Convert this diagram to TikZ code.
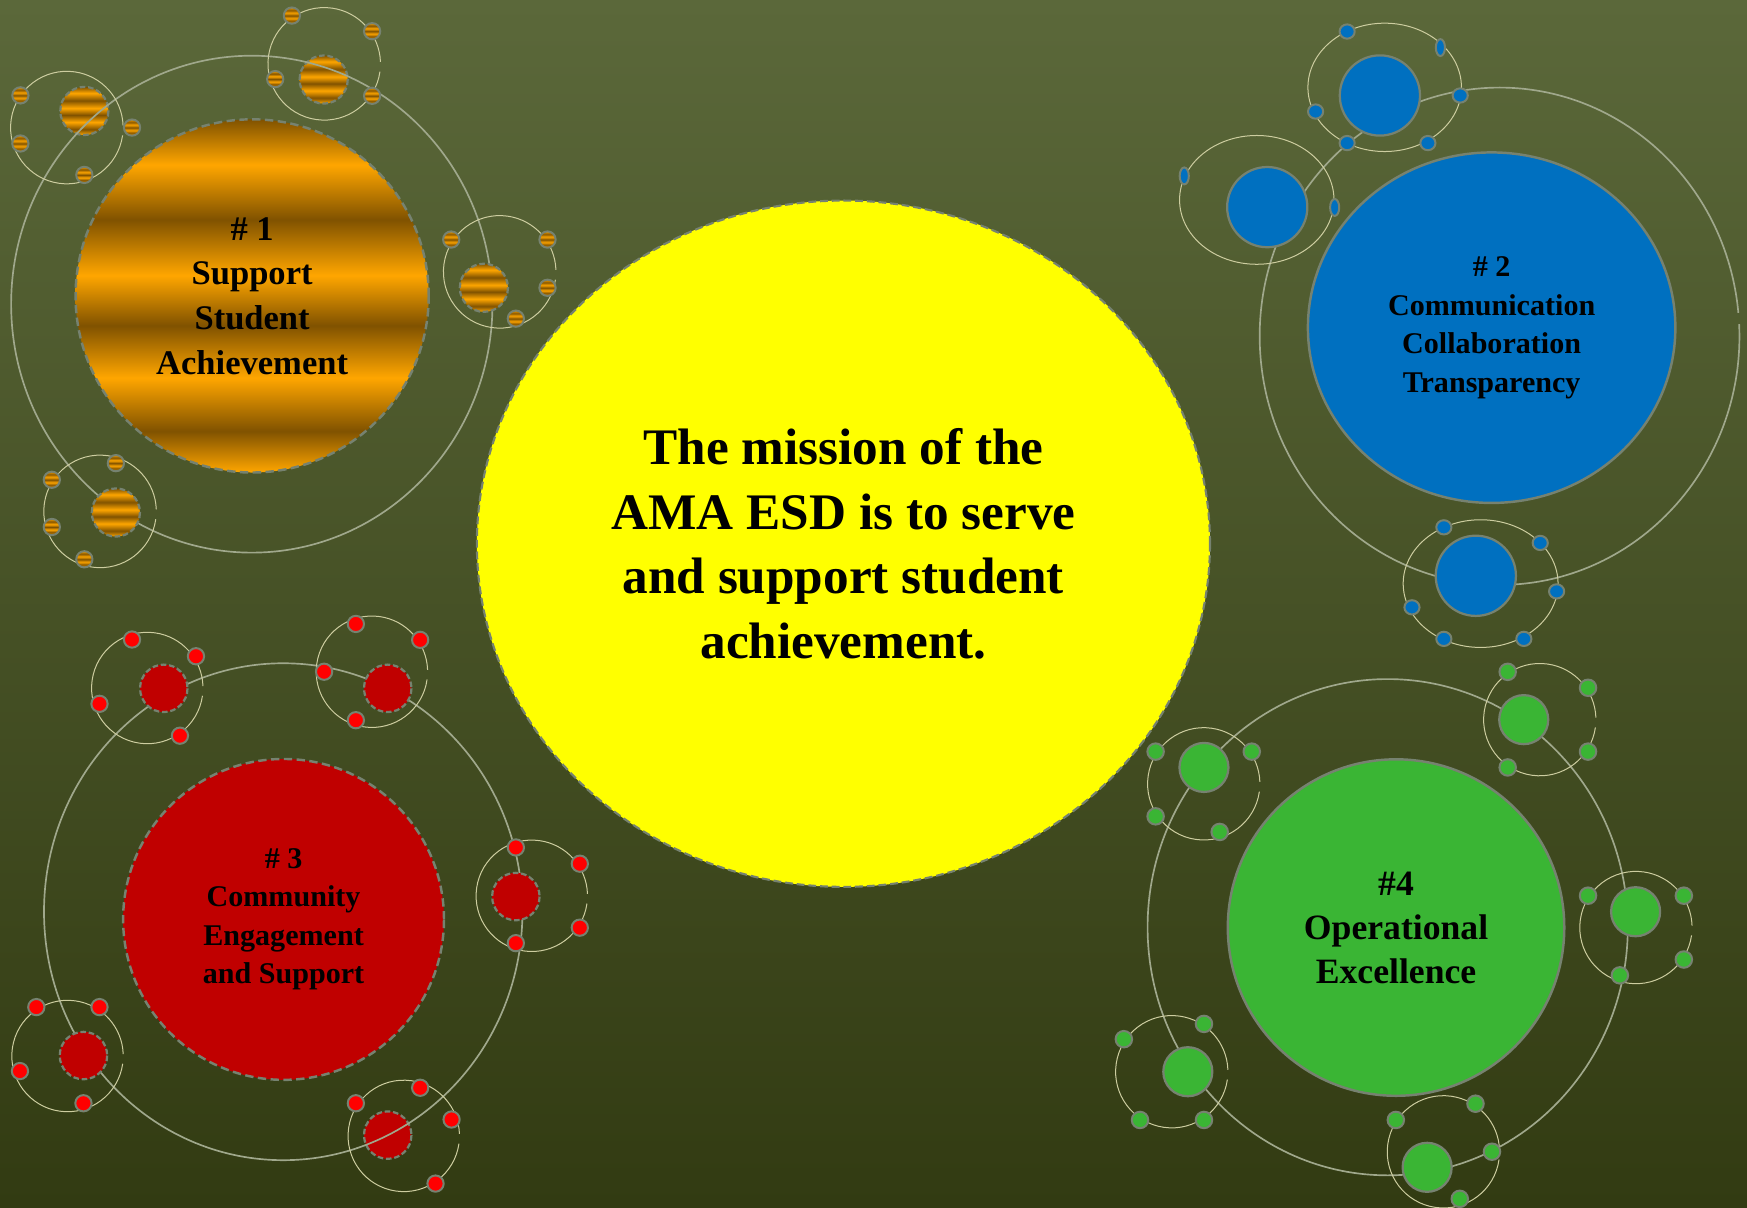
\documentclass[tikz,border=0pt]{standalone}
\usepackage{fontspec}
\setmainfont{Liberation Serif}
\usetikzlibrary{shapes.geometric}
\definecolor{bgtop}{RGB}{91,104,58}
\definecolor{bgbot}{RGB}{50,59,18}
\definecolor{ob1}{RGB}{255,166,0}
\definecolor{ob2}{RGB}{128,82,0}
\definecolor{bord}{RGB}{118,130,112}
\definecolor{bigorb}{RGB}{160,168,140}
\definecolor{ringc}{RGB}{205,205,160}
\definecolor{blueB}{RGB}{0,112,192}
\definecolor{redC}{RGB}{192,0,0}
\definecolor{redM}{RGB}{255,0,0}
\definecolor{greenD}{RGB}{58,181,52}
\definecolor{yel}{RGB}{255,255,0}
\pgfdeclareverticalshading{obands}{100bp}{color(0bp)=(ob1); color(25bp)=(ob1); color(30.85bp)=(ob2); color(38.4bp)=(ob1); color(45.8bp)=(ob2); color(52.9bp)=(ob1); color(60.8bp)=(ob2); color(68.55bp)=(ob1); color(75bp)=(ob2); color(100bp)=(ob2)}
\pgfdeclareverticalshading{mbands}{100bp}{color(0bp)=(ob1); color(25bp)=(ob1); color(33.3bp)=(ob2); color(41.7bp)=(ob1); color(50bp)=(ob2); color(58.3bp)=(ob1); color(66.7bp)=(ob2); color(75bp)=(ob1); color(100bp)=(ob1)}
\tikzset{
  bigorbit/.style={draw=bigorb, line width=1.5pt},
  ringorbit/.style={draw=ringc, line width=0.9pt},
  oplanet/.style={shading=obands, draw=bord, line width=2pt, dash pattern=on 5pt off 2.5pt},
  omoon/.style={shading=mbands, draw=bord, line width=1.8pt},
  bplanet/.style={fill=blueB, draw=bord, line width=2pt},
  bmoon/.style={fill=blueB, draw=bord, line width=1.8pt},
  rplanet/.style={fill=redC, draw=bord, line width=2pt, dash pattern=on 5pt off 2.5pt},
  rmoon/.style={fill=redM, draw=bord, line width=1.8pt},
  gplanet/.style={fill=greenD, draw=bord, line width=2pt},
  gmoon/.style={fill=greenD, draw=bord, line width=1.8pt},
  maintext/.style={align=center, inner sep=0pt, text=black},
}
\begin{document}
\begin{tikzpicture}[x=1pt,y=-1pt]
\useasboundingbox (0,0) rectangle (1568,1084);
\shade[top color=bgtop, bottom color=bgbot] (0,0) rectangle (1568,1084);

% ---------------- cluster 1 (orange)
\foreach \px/\py in {290.5/71.4, 75.7/99.6}
  \path[oplanet] (\px,\py) circle[radius=21.6];
\draw[bigorbit] (226,273) ellipse[x radius=216, y radius=223];
\foreach \cx/\cy in {291/57.3, 60/114.5, 448.5/244, 89.8/459}
  \draw[ringorbit] (\cx,\cy) ++(8:50.5) arc[start angle=8, end angle=358, radius=50.5];
\foreach \px/\py in {434.3/258.3, 104/460}
  \path[oplanet] (\px,\py) circle[radius=21.6];
\foreach \mx/\my in {262/14, 334/28, 247/71, 334/86, 18.3/85.6, 18.3/128.8, 118.5/114.5, 75.7/157, 405/215, 491.4/215, 491.4/258.3, 463/286, 46.5/430.6, 104/415.7, 46.5/473, 75.7/502}
  \path[omoon] (\mx,\my) circle[radius=7.3];
\node[circle, minimum size=317pt, shading=obands, draw=bord, line width=2.2pt, dash pattern=on 7.5pt off 4pt, maintext, font=\fontsize{31}{40}\selectfont\bfseries] (c1) at (226.3,265.6) {\# 1\\Support\\Student\\Achievement};

% ---------------- cluster 2 (blue)
\draw[bigorbit] (1345.9,301.8) ++(-2.8:215.3 and 223.2) arc[start angle=-2.8, end angle=354.6, x radius=215.3, y radius=223.2];
\draw[ringorbit] (1242.8,78.4) ellipse[x radius=68.9, y radius=57.6];
\draw[ringorbit] (1128,179.4) ellipse[x radius=69.3, y radius=57.8];
\draw[ringorbit] (1328.9,523.8) ellipse[x radius=69.5, y radius=57.3];
\foreach \px/\py in {1238.5/85.7, 1137.4/185.9, 1324.6/516.8}
  \path[bplanet] (\px,\py) circle[radius=36];
\foreach \mx/\my in {1209.1/28.3, 1310.6/85.7, 1180.8/100.1, 1209.1/128.4, 1281.6/128.4, 1295.9/473.3, 1382.4/487.3, 1397.1/530.8, 1267.3/545.1, 1295.9/573.4, 1367.7/573.4}
  \path[bmoon] (\mx,\my) ellipse[x radius=6.8, y radius=6.4];
\foreach \mx/\my in {1292.8/42.7, 1062.9/157.9, 1197.9/186.2}
  \path[bmoon] (\mx,\my) ellipse[x radius=4.1, y radius=7.6];
\node[ellipse, minimum width=329.8pt, minimum height=314.6pt, fill=blueB, draw=bord, line width=2.2pt, maintext, font=\fontsize{27}{34.7}\selectfont\bfseries] (c2) at (1338.8,294.1) {\# 2\\Communication\\Collaboration\\Transparency};

% ---------------- cluster 3 (red)
\path[rplanet] (348,1018.8) circle[radius=21.3];
\draw[bigorbit] (254.2,818.3) ellipse[x radius=214.7, y radius=223];
\foreach \cx/\cy in {132.2/617.5, 333.8/602.9, 477.3/804, 60.6/947.8, 362.4/1019.5}
  \draw[ringorbit] (\cx,\cy) ++(8:50) arc[start angle=8, end angle=358, radius=50];
\foreach \px/\py in {147/617.8, 348/617.8, 463/804.7, 74.9/947.4}
  \path[rplanet] (\px,\py) circle[radius=21.3];
\foreach \mx/\my in {118.5/574, 175.9/589, 89.3/631.7, 161.5/660.3, 319.4/560, 377.1/574.3, 290.9/602.9, 319.4/646.4, 463/760.6, 520.4/775.2, 520.4/832.6, 463/846.5, 32.6/903.9, 89.3/903.9, 17.9/961.3, 74.9/990.2, 319.4/990.2, 377.1/976.3, 405.3/1004.8, 390.9/1062.3}
  \path[rmoon] (\mx,\my) circle[radius=7.3];
\node[circle, minimum size=288pt, fill=redC, draw=bord, line width=2.2pt, dash pattern=on 7.5pt off 4pt, maintext, font=\fontsize{27}{34.5}\selectfont\bfseries] (c3) at (254.5,825.2) {\# 3\\Community\\Engagement\\and Support};

% ---------------- cluster 4 (green)
\draw[bigorbit] (1245.5,832.2) ellipse[x radius=215.5, y radius=222.7];
\foreach \cx/\cy in {1080.4/703.5, 1382/645.9, 1468.3/832.5, 1051.7/961.9, 1295.5/1033.8}
  \draw[ringorbit] (\cx,\cy) ++(8:50.4) arc[start angle=8, end angle=358, radius=50.4];
\foreach \px/\py in {1080.6/688.8, 1367.6/645.9, 1468/818.3, 1066.1/961.9, 1280.9/1047.7}
  \path[gplanet] (\px,\py) circle[radius=22];
\foreach \mx/\my in {1037.2/674.6, 1123.5/674.6, 1037.2/732.7, 1094.7/746.7, 1353.2/603, 1425.3/617.3, 1425.3/674.6, 1353.2/688.8, 1425.3/803.9, 1511.3/803.9, 1511.3/861.2, 1453.9/875.4, 1008.7/932.7, 1080.6/919, 1023.2/1005.2, 1080.6/1005.2, 1252.8/1005.2, 1324.3/990.6, 1339.1/1033.7, 1310.2/1076}
  \path[gmoon] (\mx,\my) circle[radius=7.4];
\node[circle, minimum size=302pt, fill=greenD, draw=bord, line width=2.2pt, maintext, font=\fontsize{32}{39.5}\selectfont\bfseries] (c4) at (1253,832.5) {\#4\\Operational\\Excellence};

% ---------------- mission
\node[ellipse, minimum width=658pt, minimum height=616pt, fill=yel, draw=bord, line width=1.9pt, dash pattern=on 7pt off 3.5pt, maintext, font=\fontsize{46}{58}\selectfont\bfseries] (mission) at (757,488) {The mission of the\\AMA ESD is to serve\\and support student\\achievement.};
\end{tikzpicture}
\end{document}
